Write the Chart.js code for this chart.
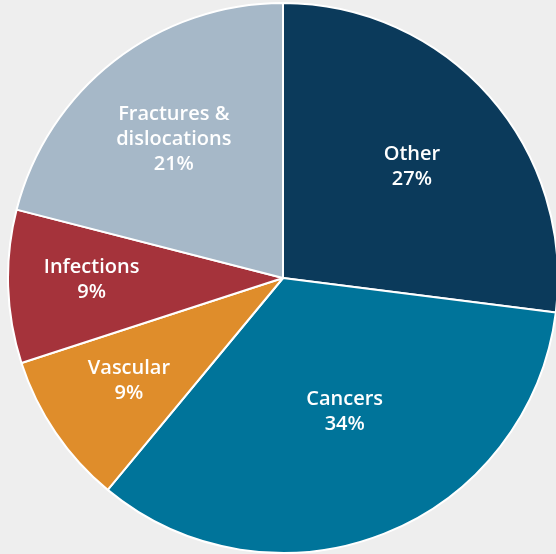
<!DOCTYPE html>
<html>
<head>
<meta charset="utf-8">
<script src="https://cdn.jsdelivr.net/npm/chart.js@4/dist/chart.umd.min.js"></script>
<style>
  html, body { margin: 0; padding: 0; background: #eeeeee; width: 556px; height: 554px; overflow: hidden; }
  #wrap { position: absolute; left: 7px; top: 2px; width: 552px; height: 552px; }
</style>
</head>
<body>
<div id="wrap"><canvas id="c"></canvas></div>
<script>
const categories = [["Other"], ["Cancers"], ["Vascular"], ["Infections"], ["Fractures &", "dislocations"]];
const percentValues = [27, 34, 9, 9, 21];
const sliceColors = ["#0b3a5b", "#00749a", "#df8d2b", "#a5333b", "#a6b8c8"];

const labelPlugin = {
  id: 'sliceLabels',
  afterDatasetsDraw(chart, args, opts) {
    const ctx = chart.ctx;
    const meta = chart.getDatasetMeta(0);
    ctx.save();
    ctx.fillStyle = '#ffffff';
    ctx.font = '600 20px "Open Sans", Lato, sans-serif';
    ctx.textAlign = 'center';
    ctx.textBaseline = 'middle';
    meta.data.forEach((arc, i) => {
      const p = arc.getProps(['x', 'y', 'startAngle', 'endAngle', 'outerRadius'], true);
      const mid = (p.startAngle + p.endAngle) / 2 + opts.angleTweak[i] * Math.PI / 180;
      const r = p.outerRadius * opts.radius[i];
      const cx = p.x + Math.cos(mid) * r;
      const cy = p.y + Math.sin(mid) * r + 2.5;
      const lines = categories[i].concat([percentValues[i] + '%']);
      const lh = 25;
      const y0 = cy - (lines.length - 1) * lh / 2;
      lines.forEach((t, k) => ctx.fillText(t, cx, y0 + k * lh));
    });
    ctx.restore();
  }
};

new Chart(document.getElementById('c'), {
  type: 'pie',
  data: {
    labels: categories.map(c => c.join(' ')),
    datasets: [{
      data: percentValues,
      backgroundColor: sliceColors,
      borderColor: '#ffffff',
      borderWidth: 2
    }]
  },
  options: {
    responsive: true,
    maintainAspectRatio: false,
    animation: false,
    layout: { padding: 0 },
    plugins: {
      legend: { display: false },
      tooltip: { enabled: false },
      sliceLabels: {
        radius: [0.625, 0.527, 0.668, 0.696, 0.648],
        angleTweak: [0, -3.6, 1.2, 1.9, 0]
      }
    }
  },
  plugins: [labelPlugin]
});
</script>
</body>
</html>
